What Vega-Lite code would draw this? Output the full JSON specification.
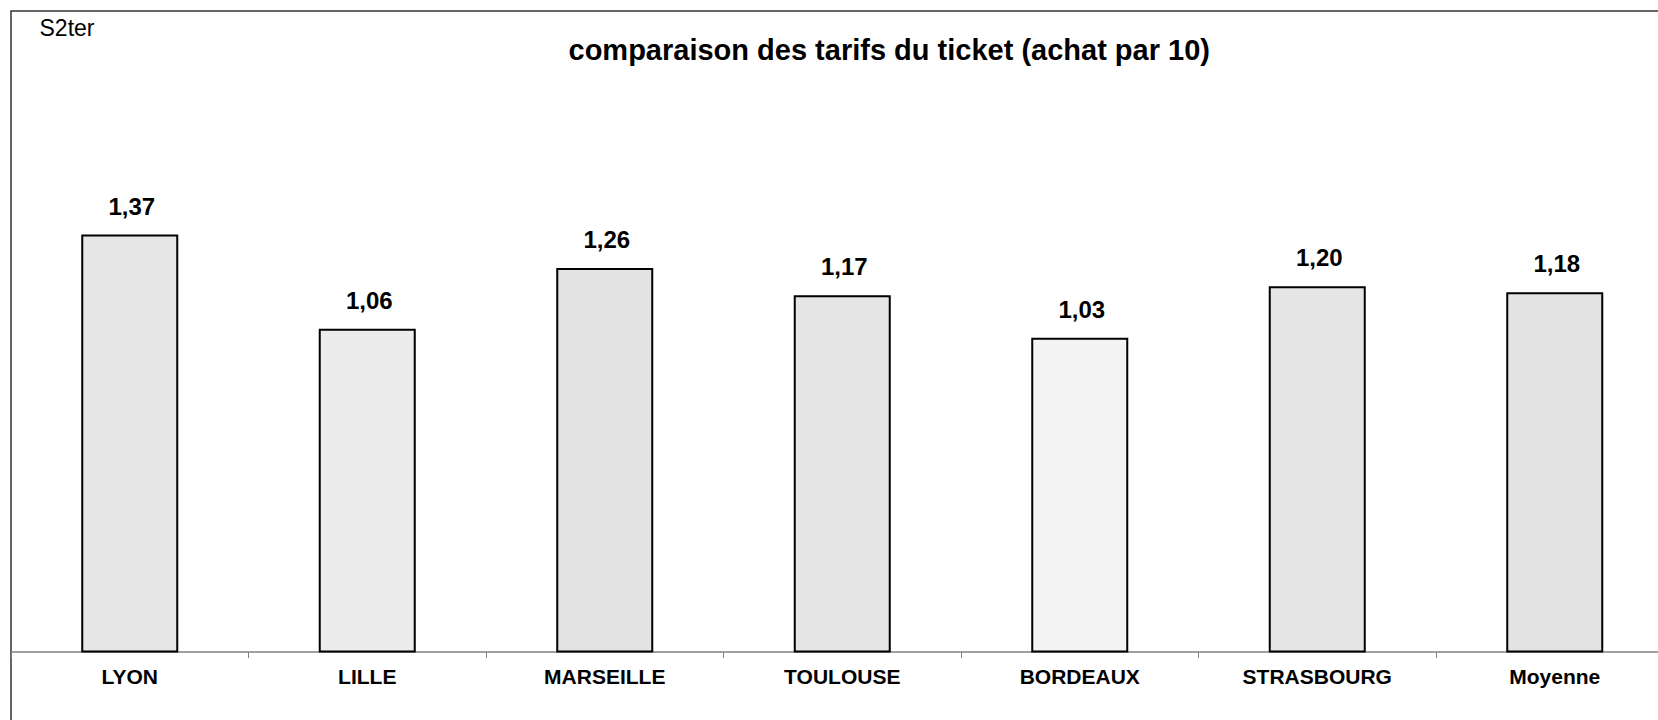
{
  "$schema": "https://vega.github.io/schema/vega-lite/v6.json",
  "autosize": "none",
  "padding": {"left": 11, "top": 11, "right": 0, "bottom": 0},
  "width": 1662.5,
  "height": 729,
  "background": "white",
  "title": {
    "text": "comparaison des tarifs du ticket (achat par 10)",
    "font": "Liberation Sans",
    "fontSize": 29,
    "fontWeight": "bold",
    "color": "black",
    "anchor": "middle",
    "frame": "group",
    "offset": 0,
    "baseline": "alphabetic",
    "dx": 47,
    "dy": 78
  },
  "data": {
    "values": [
      {"ville": "LYON", "tarif": 1.37, "label": "1,37"},
      {"ville": "LILLE", "tarif": 1.06, "label": "1,06"},
      {"ville": "MARSEILLE", "tarif": 1.26, "label": "1,26"},
      {"ville": "TOULOUSE", "tarif": 1.17, "label": "1,17"},
      {"ville": "BORDEAUX", "tarif": 1.03, "label": "1,03"},
      {"ville": "STRASBOURG", "tarif": 1.20, "label": "1,20"},
      {"ville": "Moyenne", "tarif": 1.18, "label": "1,18"}
    ]
  },
  "encoding": {
    "x": {
      "field": "ville",
      "type": "nominal",
      "sort": null,
      "scale": {"paddingInner": 0.6, "paddingOuter": 0.3},
      "axis": {
        "orient": "bottom",
        "title": null,
        "bandPosition": -0.75,
        "labelOffset": 0,
        "offset": -88.5,
        "domainColor": "#808080",
        "domainWidth": 1.5,
        "tickColor": "#808080",
        "tickSize": 6,
        "tickWidth": 1,
        "labelAngle": 0,
        "labelFont": "Liberation Sans",
        "labelFontSize": 21,
        "labelFontWeight": "bold",
        "labelColor": "black",
        "labelBaseline": "alphabetic",
        "labelPadding": 26,
        "labelFlush": false,
        "labelOverlap": false,
        "grid": false
      }
    },
    "y": {
      "field": "tarif",
      "type": "quantitative",
      "scale": {"domain": [-0.2915, 2.1097], "nice": false, "zero": false},
      "axis": {
        "orient": "left",
        "title": "S2ter",
        "titleAngle": 0,
        "titleX": 28,
        "titleY": 24,
        "titleAlign": "left",
        "titleBaseline": "alphabetic",
        "titleFont": "Liberation Sans",
        "titleFontSize": 23,
        "titleFontWeight": "normal",
        "titleColor": "black",
        "domain": false,
        "ticks": false,
        "labels": false,
        "grid": false
      }
    }
  },
  "layer": [
    {
      "mark": {"type": "bar", "stroke": "black", "strokeWidth": 2},
      "encoding": {
        "y2": {"datum": 0},
        "color": {
          "field": "ville",
          "type": "nominal",
          "scale": {
            "domain": ["LYON", "LILLE", "MARSEILLE", "TOULOUSE", "BORDEAUX", "STRASBOURG", "Moyenne"],
            "range": ["#e6e6e6", "#ececec", "#e3e3e3", "#e5e5e5", "#f3f3f3", "#e5e5e5", "#e3e3e3"]
          },
          "legend": null
        }
      }
    },
    {
      "mark": {
        "type": "text",
        "baseline": "alphabetic",
        "dy": -21,
        "dx": 2,
        "font": "Liberation Sans",
        "fontSize": 24,
        "fontWeight": "bold",
        "color": "black"
      },
      "encoding": {"text": {"field": "label"}}
    }
  ],
  "config": {"view": {"stroke": "#333333", "strokeWidth": 1.5}}
}
